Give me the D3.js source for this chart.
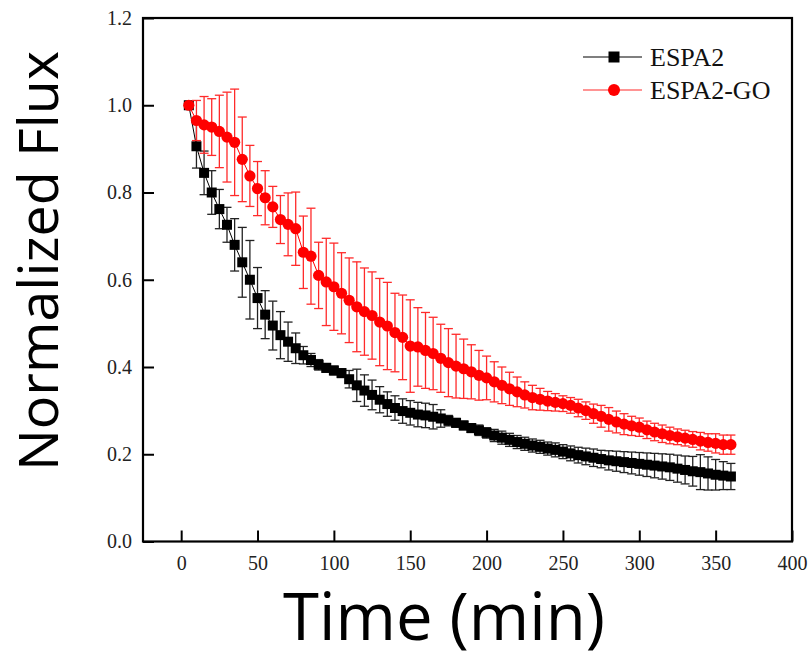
<!DOCTYPE html>
<html lang="en">
<head>
  <meta charset="UTF-8"/>
  <title>Normalized Flux vs Time</title>
  <script src="https://d3js.org/d3.v7.min.js"></script>
  <style>
    body { margin: 0; background: #fff; }
  </style>
</head>
<body>
<script>

var w = 810;
var h = 654;

// sampling times (min)
var times = [5, 10, 15, 20, 25, 30, 35, 40, 45, 50, 55, 60, 65, 70, 75, 80, 85, 90,
  95, 100, 105, 110, 115, 120, 125, 130, 135, 140, 145, 150, 155, 160, 165, 170, 175, 180,
  185, 190, 195, 200, 205, 210, 215, 220, 225, 230, 235, 240, 245, 250, 255, 260, 265, 270,
  275, 280, 285, 290, 295, 300, 305, 310, 315, 320, 325, 330, 335, 340, 345, 350, 355, 360];

// ESPA2 (black squares)
var espa2 = [1.000, 0.906, 0.845, 0.800, 0.762, 0.726, 0.680, 0.640, 0.600, 0.558, 0.520, 0.495,
  0.473, 0.458, 0.443, 0.427, 0.416, 0.405, 0.398, 0.392, 0.386, 0.372, 0.358, 0.346,
  0.336, 0.325, 0.315, 0.306, 0.299, 0.295, 0.291, 0.289, 0.286, 0.282, 0.277, 0.272,
  0.266, 0.260, 0.255, 0.249, 0.243, 0.238, 0.233, 0.228, 0.224, 0.220, 0.217, 0.213,
  0.210, 0.206, 0.202, 0.198, 0.195, 0.192, 0.189, 0.186, 0.184, 0.182, 0.180, 0.178,
  0.176, 0.174, 0.172, 0.170, 0.167, 0.164, 0.161, 0.159, 0.156, 0.153, 0.151, 0.149];
var espa2Err = [0, 0.050, 0.050, 0.050, 0.045, 0.040, 0.060, 0.080, 0.090, 0.070, 0.055, 0.056,
  0.054, 0.045, 0.035, 0.020, 0.015, 0.012, 0.010, 0.010, 0.010, 0.020, 0.037, 0.036,
  0.034, 0.030, 0.028, 0.028, 0.028, 0.028, 0.028, 0.028, 0.028, 0.020, 0.012, 0.010,
  0.010, 0.010, 0.012, 0.012, 0.014, 0.015, 0.015, 0.015, 0.015, 0.015, 0.015, 0.015,
  0.016, 0.016, 0.017, 0.018, 0.019, 0.020, 0.020, 0.022, 0.023, 0.024, 0.025, 0.026,
  0.027, 0.028, 0.029, 0.030, 0.031, 0.032, 0.034, 0.040, 0.038, 0.035, 0.032, 0.030];

// ESPA2-GO (red circles)
var espa2go = [1.000, 0.965, 0.955, 0.950, 0.940, 0.927, 0.915, 0.876, 0.838, 0.809, 0.788, 0.767,
  0.738, 0.727, 0.717, 0.663, 0.654, 0.610, 0.595, 0.584, 0.569, 0.553, 0.538, 0.527,
  0.518, 0.503, 0.494, 0.479, 0.468, 0.448, 0.446, 0.438, 0.431, 0.420, 0.410, 0.402,
  0.396, 0.389, 0.381, 0.375, 0.366, 0.358, 0.350, 0.343, 0.336, 0.330, 0.326, 0.322,
  0.319, 0.316, 0.312, 0.306, 0.300, 0.293, 0.287, 0.280, 0.274, 0.269, 0.265, 0.262,
  0.256, 0.251, 0.247, 0.243, 0.240, 0.237, 0.234, 0.230, 0.227, 0.225, 0.222, 0.222];
var espa2goErr = [0, 0.046, 0.065, 0.065, 0.083, 0.103, 0.122, 0.097, 0.070, 0.062, 0.062, 0.047,
  0.055, 0.072, 0.084, 0.083, 0.110, 0.076, 0.100, 0.100, 0.093, 0.097, 0.103, 0.100,
  0.100, 0.100, 0.100, 0.090, 0.097, 0.106, 0.090, 0.087, 0.083, 0.078, 0.078, 0.073,
  0.068, 0.062, 0.057, 0.050, 0.046, 0.042, 0.038, 0.034, 0.030, 0.028, 0.025, 0.022,
  0.020, 0.018, 0.018, 0.020, 0.020, 0.022, 0.025, 0.027, 0.025, 0.024, 0.022, 0.021,
  0.020, 0.020, 0.020, 0.019, 0.018, 0.018, 0.018, 0.020, 0.020, 0.022, 0.022, 0.022];

var xTicks = [0, 50, 100, 150, 200, 250, 300, 350, 400];
var yTicks = [0.0, 0.2, 0.4, 0.6, 0.8, 1.0, 1.2];
var seriesNames = ["ESPA2", "ESPA2-GO"];

var pLeft = 143, pRight = 792, pTop = 18, pBottom = 541.5;

var x = d3.scaleLinear().domain([-25, 400]).range([pLeft, pRight]);
var y = d3.scaleLinear().domain([0, 1.2]).range([pBottom, pTop]);

var svg = d3.select("body")
            .append("svg")
            .attr("width", w)
            .attr("height", h)
            .style("display", "block");

// axes with inward ticks
var xAxis = d3.axisBottom(x).tickValues(xTicks).tickSizeInner(-11).tickSizeOuter(0).tickPadding(14);
var yAxis = d3.axisLeft(y).tickValues(yTicks).tickSizeInner(-11).tickSizeOuter(0).tickPadding(11)
              .tickFormat(d3.format(".1f"));

var gx = svg.append("g").attr("transform", "translate(0," + pBottom + ")").call(xAxis);
var gy = svg.append("g").attr("transform", "translate(" + pLeft + ",0)").call(yAxis);

[gx, gy].forEach(function(g) {
  g.attr("font-size", null).attr("font-family", null);
  g.select(".domain").remove();
  g.selectAll(".tick line").attr("stroke", "#000").attr("stroke-width", 2);
  g.selectAll(".tick text")
   .attr("fill", "#222")
   .style("font-family", "'Liberation Serif', 'Times New Roman', serif")
   .style("font-size", "20px");
});

svg.append("rect")
   .attr("x", pLeft).attr("y", pTop)
   .attr("width", pRight - pLeft).attr("height", pBottom - pTop)
   .attr("fill", "none").attr("stroke", "#000").attr("stroke-width", 2.2);

function drawSeries(vals, errs, color, barColor, shape) {
  var data = times.map(function(t, i) { return {t: t, v: vals[i], e: errs[i]}; });
  var g = svg.append("g");

  var bars = g.selectAll("g.err").data(data.filter(function(d) { return d.e > 0; }))
              .enter().append("g").attr("class", "err")
              .attr("stroke", barColor).attr("stroke-width", 1.3);
  bars.append("line")
      .attr("x1", function(d) { return x(d.t); }).attr("x2", function(d) { return x(d.t); })
      .attr("y1", function(d) { return y(d.v - d.e); }).attr("y2", function(d) { return y(d.v + d.e); });
  bars.append("line")
      .attr("x1", function(d) { return x(d.t) - 4.5; }).attr("x2", function(d) { return x(d.t) + 4.5; })
      .attr("y1", function(d) { return y(d.v + d.e); }).attr("y2", function(d) { return y(d.v + d.e); });
  bars.append("line")
      .attr("x1", function(d) { return x(d.t) - 4.5; }).attr("x2", function(d) { return x(d.t) + 4.5; })
      .attr("y1", function(d) { return y(d.v - d.e); }).attr("y2", function(d) { return y(d.v - d.e); });

  var line = d3.line().x(function(d) { return x(d.t); }).y(function(d) { return y(d.v); });
  g.append("path").datum(data).attr("d", line)
   .attr("fill", "none").attr("stroke", color).attr("stroke-width", 1);

  if (shape == "square") {
    g.selectAll("rect.pt").data(data).enter().append("rect").attr("class", "pt")
     .attr("x", function(d) { return x(d.t) - 5; })
     .attr("y", function(d) { return y(d.v) - 5; })
     .attr("width", 10).attr("height", 10)
     .attr("fill", color);
  } else {
    g.selectAll("circle.pt").data(data).enter().append("circle").attr("class", "pt")
     .attr("cx", function(d) { return x(d.t); })
     .attr("cy", function(d) { return y(d.v); })
     .attr("r", 5.6)
     .attr("fill", color);
  }
}

drawSeries(espa2, espa2Err, "#000", "#222", "square");
drawSeries(espa2go, espa2goErr, "#ff0000", "#ff2a2a", "circle");

// legend
var legend = svg.append("g");
var legY = [57, 90];
legend.append("line").attr("x1", 583).attr("x2", 642).attr("y1", legY[0]).attr("y2", legY[0])
      .attr("stroke", "#000").attr("stroke-width", 1.2);
legend.append("rect").attr("x", 608.5).attr("y", legY[0] - 5.5).attr("width", 11).attr("height", 11)
      .attr("fill", "#000");
legend.append("line").attr("x1", 583).attr("x2", 642).attr("y1", legY[1]).attr("y2", legY[1])
      .attr("stroke", "#ff2a2a").attr("stroke-width", 1.2);
legend.append("circle").attr("cx", 614).attr("cy", legY[1]).attr("r", 6)
      .attr("fill", "#ff0000");
legend.selectAll("text").data(seriesNames).enter().append("text")
      .attr("x", 650)
      .attr("y", function(d, i) { return legY[i]; })
      .attr("dy", "0.35em")
      .style("font-family", "'Liberation Serif', 'Times New Roman', serif")
      .style("font-size", "26px")
      .attr("fill", "#111")
      .text(function(d) { return d; });

// axis titles, sized to the picture's text extent
function fitText(sel, width) {
  var len = sel.node().getComputedTextLength();
  var fs = parseFloat(sel.style("font-size"));
  sel.style("font-size", (fs * width / len) + "px");
}

var xTitle = svg.append("text")
   .attr("x", 444).attr("y", 640)
   .attr("text-anchor", "middle")
   .style("font-family", "'Open Sans', 'Noto Sans', sans-serif")
   .style("font-size", "60px")
   .attr("fill", "#000")
   .text("Time (min)");
fitText(xTitle, 322);

var yTitle = svg.append("text")
   .attr("transform", "translate(58,261) rotate(-90)")
   .attr("text-anchor", "middle")
   .style("font-family", "'Open Sans', 'Noto Sans', sans-serif")
   .style("font-size", "56px")
   .attr("fill", "#000")
   .text("Normalized Flux");
fitText(yTitle, 420);

</script>
</body>
</html>
